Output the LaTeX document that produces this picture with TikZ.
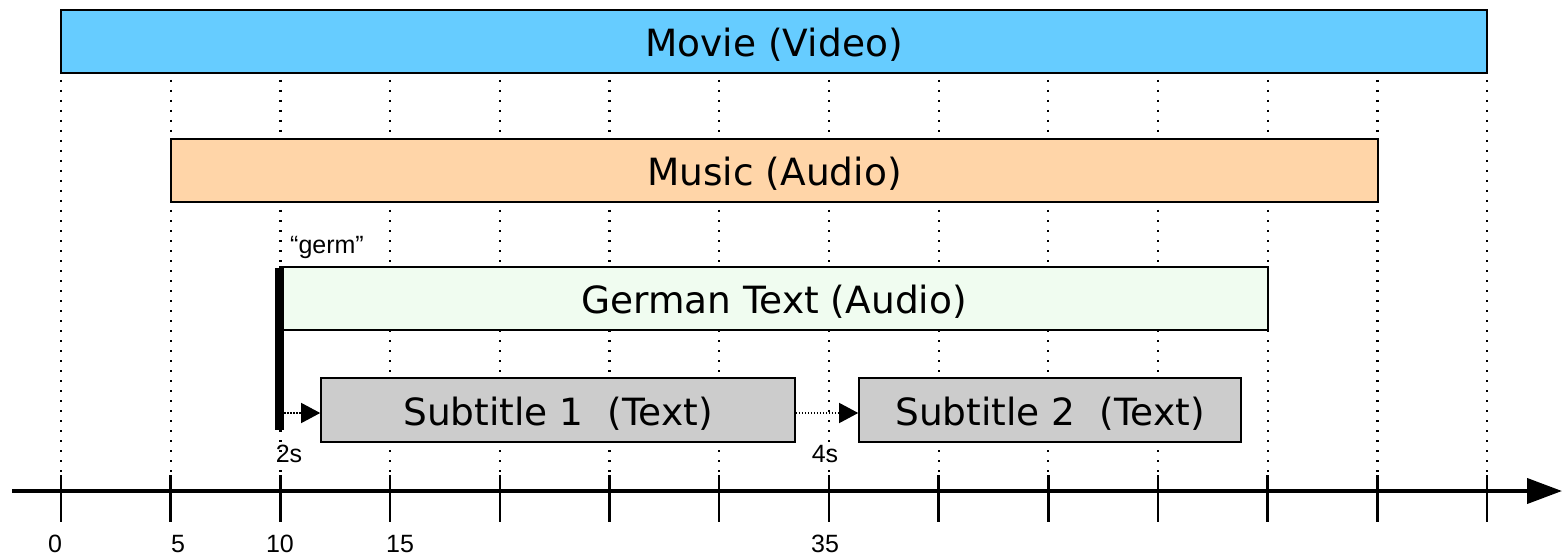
\documentclass[tikz,border=0pt]{standalone}
\usepackage{fontspec}
\usetikzlibrary{arrows.meta}
\newfontfamily\boxfont{DejaVu Sans}
\newfontfamily\labelfont{Liberation Sans}
\definecolor{videoblue}{HTML}{66CCFF}
\definecolor{audiopeach}{HTML}{FFD5A8}
\definecolor{textgreen}{HTML}{F0FCF0}
\definecolor{subgray}{HTML}{CCCCCC}
\tikzset{
  track/.style={draw=black, line width=1.6pt, inner sep=0pt, minimum height=63pt,
    text height=30pt, text depth=0pt,
    font=\boxfont\fontsize{37.5}{44}\selectfont},
  small/.style={inner sep=0pt, text height=18pt, text depth=0pt,
    font=\labelfont\fontsize{25}{30}\selectfont},
  gridline/.style={line width=2.2pt, dash pattern=on 2.2pt off 7.8pt},
  tickline/.style={line width=2.5pt},
  axisline/.style={line width=4pt, -{Triangle[length=35pt,width=25pt]}},
  delay/.style={line width=1.3pt, dash pattern=on 1.3pt off 1.7pt,
    -{Triangle[length=19pt,width=20pt]}, shorten >=0pt},
}
\begin{document}
\begin{tikzpicture}[x=1pt, y=-1pt]
  \useasboundingbox (0,0) rectangle (1562,556);

  % vertical grid lines every 5 seconds and axis ticks
  \foreach \i in {0,...,13} {
    \pgfmathsetmacro{\xx}{61+\i*109.7}
    \draw[gridline] (\xx,10) -- (\xx,473);
    \draw[tickline] (\xx,475) -- (\xx,522);
  }

  % time axis
  \coordinate (axstart) at (12,491);
  \coordinate (axend) at (1562,491);
  \draw[axisline] (axstart) -- (axend);

  % media tracks
  \node[track, fill=videoblue, minimum width=1426pt] (movie) at (774,41.5) {Movie (Video)};
  \node[track, fill=audiopeach, minimum width=1207pt] (music) at (774.5,170.5) {Music (Audio)};
  \node[track, fill=textgreen, minimum width=988pt] (german) at (774,298.5) {German Text (Audio)};
  \node[track, fill=subgray, minimum width=474pt, minimum height=64pt] (sub1) at (558,410) {Subtitle 1\ \ (Text)};
  \node[track, fill=subgray, minimum width=382pt, minimum height=64pt] (sub2) at (1050,410) {Subtitle 2\ \ (Text)};

  % synchronisation point of the German text
  \node[fill=black, inner sep=0pt, minimum width=9pt, minimum height=162pt] (germbar) at (279.5,349) {};
  \node[small] (germ) at (327,244) {“germ”};

  % delays between the subtitles
  \draw[delay] ([yshift=-3pt]germbar.east |- sub1.west) -- ([yshift=-3pt]sub1.west);
  \draw[delay] ([yshift=-3pt]sub1.east) -- ([yshift=-3pt]sub2.west);
  \node[small] (d1) at (289,453) {2s};
  \node[small] (d2) at (825,453) {4s};

  % axis labels
  \node[small] (t0) at (55,543) {0};
  \node[small] (t5) at (178,543) {5};
  \node[small] (t10) at (280,543) {10};
  \node[small] (t15) at (400,543) {15};
  \node[small] (t35) at (825,543) {35};
\end{tikzpicture}
\end{document}
